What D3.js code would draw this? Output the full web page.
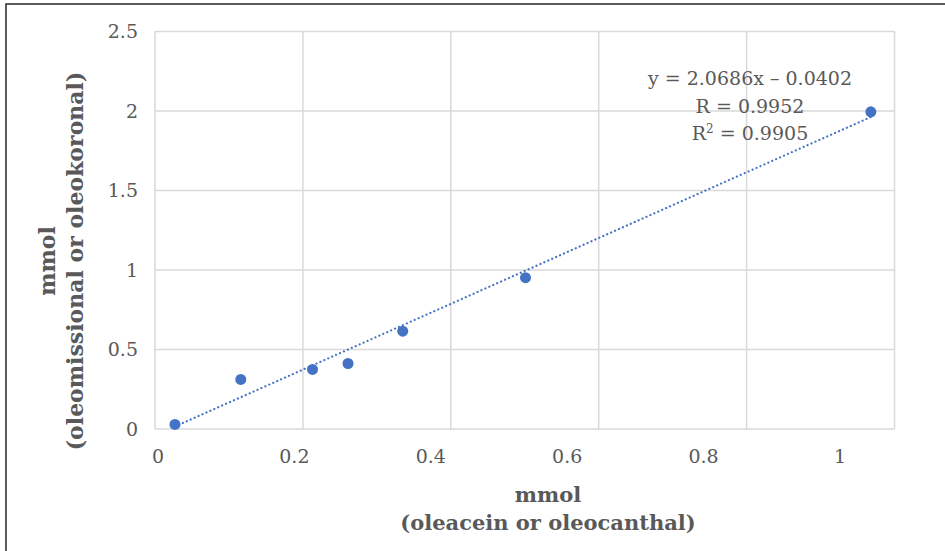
<!DOCTYPE html>
<html>
<head>
<meta charset="utf-8">
<script src="https://cdn.jsdelivr.net/npm/d3@7"></script>
<style>
  body { margin: 0; background: #fff; }
  svg text { font-family: "DejaVu Serif", serif; fill: #595959; }
</style>
</head>
<body>
<div id="main"></div>
<script>
// DATA
var x_values = [0.027, 0.116, 0.213, 0.261, 0.335, 0.501, 0.968]
var y_values = [0.029, 0.312, 0.375, 0.412, 0.615, 0.952, 1.995]
var x_ticks = [0, 0.2, 0.4, 0.6, 0.8, 1]
var y_ticks = [0, 0.5, 1, 1.5, 2, 2.5]
var trend_slope = 2.0686
var trend_intercept = -0.0402
var eq_lines = ['y = 2.0686x \u2013 0.0402', 'R = 0.9952', 'R\u00b2 = 0.9905']
var x_title = ['mmol', '(oleacein or oleocanthal)']
var y_title = ['mmol', '(oleomissional or oleokoronal)']

var width = 945, height = 551
var blue = '#4472C4', grid = '#d9d9d9'

var points = x_values.map((x, i) => ({x: x, y: y_values[i]}))

var svg = d3.select('#main').append('svg')
  .attr('width', width)
  .attr('height', height)

// outer frame
svg.append('rect')
  .attr('x', 6).attr('y', 4)
  .attr('width', width + 10).attr('height', height + 10)
  .attr('fill', 'none').attr('stroke', '#262626').attr('stroke-width', 1.5)

// scales (plot area 155..894 x 32..429)
var x = d3.scaleLinear().domain([0, 1]).range([155, 894.5])
var y = d3.scaleLinear().domain([0, 2.5]).range([429, 31.5])
// tick labels in the picture sit slightly off the gridlines
var x_label = d3.scaleLinear().domain([0, 1]).range([158, 840])

// gridlines
svg.append('g').selectAll('line.v')
  .data(x_ticks)
  .join('line')
    .attr('x1', d => x(d)).attr('x2', d => x(d))
    .attr('y1', y(0)).attr('y2', y(2.5))
    .attr('stroke', grid).attr('stroke-width', 1.5)
svg.append('g').selectAll('line.h')
  .data(y_ticks)
  .join('line')
    .attr('x1', x(0)).attr('x2', x(1))
    .attr('y1', d => y(d)).attr('y2', d => y(d))
    .attr('stroke', grid).attr('stroke-width', 1.5)

// tick labels
svg.append('g').selectAll('text')
  .data(x_ticks)
  .join('text')
    .attr('x', d => x_label(d))
    .attr('y', 463)
    .attr('text-anchor', 'middle')
    .style('font-size', '19px')
    .text(d => d3.format('~g')(d))
svg.append('g').selectAll('text')
  .data(y_ticks)
  .join('text')
    .attr('x', 138)
    .attr('y', d => y(d))
    .attr('dy', '0.35em')
    .attr('text-anchor', 'end')
    .style('font-size', '19px')
    .text(d => d3.format('~g')(d))

// trendline (dotted) over the data range
var x_ext = d3.extent(x_values)
svg.append('line')
  .attr('x1', x(x_ext[0])).attr('y1', y(trend_slope * x_ext[0] + trend_intercept))
  .attr('x2', x(x_ext[1])).attr('y2', y(trend_slope * x_ext[1] + trend_intercept))
  .attr('stroke', blue).attr('stroke-width', 2.2)
  .attr('stroke-dasharray', '0.1,4.2').attr('stroke-linecap', 'round')

// points
svg.append('g').selectAll('circle')
  .data(points)
  .join('circle')
    .attr('cx', d => x(d.x))
    .attr('cy', d => y(d.y))
    .attr('r', 5.5)
    .attr('fill', blue)

// equation label
var eq = svg.append('g').selectAll('text')
  .data(eq_lines)
  .join('text')
    .attr('x', 750)
    .attr('y', (d, i) => 85 + i * 27.5)
    .attr('text-anchor', 'middle')
    .style('font-size', '19px')
eq.each(function(d) {
  var t = d3.select(this)
  if (d.indexOf('\u00b2') >= 0) {
    var parts = d.split('\u00b2')
    t.append('tspan').text(parts[0])
    t.append('tspan').attr('dy', -7).style('font-size', '12px').text('2')
    t.append('tspan').attr('dy', 7).text(parts[1])
  } else {
    t.text(d)
  }
})

// axis titles
svg.append('g').selectAll('text')
  .data(x_title)
  .join('text')
    .attr('x', 548)
    .attr('y', (d, i) => 502 + i * 28)
    .attr('text-anchor', 'middle')
    .style('font-size', '21px')
    .style('font-weight', 'bold')
    .text(d => d)
svg.append('g').selectAll('text')
  .data(y_title)
  .join('text')
    .attr('transform', (d, i) => `translate(${55 + i * 28},261) rotate(-90)`)
    .attr('text-anchor', 'middle')
    .style('font-size', '22px')
    .style('font-weight', 'bold')
    .text(d => d)
</script>
</body>
</html>
